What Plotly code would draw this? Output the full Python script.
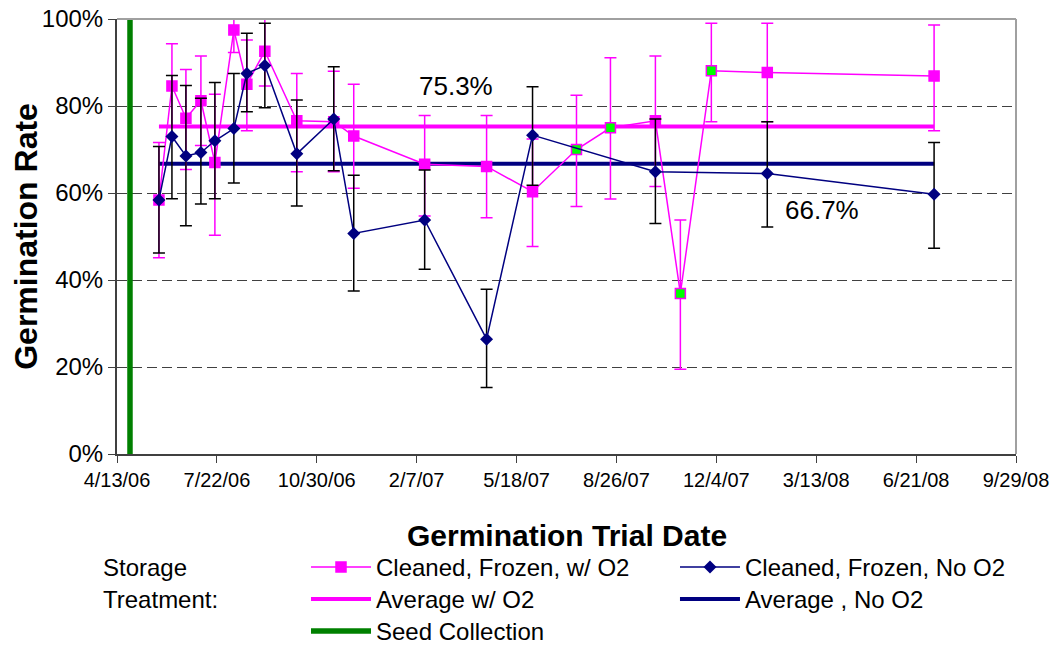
import plotly.graph_objects as go

# ---------------- data ----------------
dates_o2 = ["2006-05-25", "2006-06-07", "2006-06-21", "2006-07-06", "2006-07-20",
            "2006-08-08", "2006-08-21", "2006-09-08", "2006-10-10", "2006-11-16",
            "2006-12-06", "2007-02-15", "2007-04-18", "2007-06-03", "2007-07-17",
            "2007-08-20", "2007-10-04", "2007-10-29", "2007-11-29", "2008-01-24",
            "2008-07-09"]
rate_o2 = [0.584, 0.846, 0.772, 0.812, 0.670, 0.975, 0.850, 0.926, 0.766, 0.764,
           0.731, 0.666, 0.661, 0.603, 0.700, 0.750, 0.766, 0.369, 0.881, 0.877,
           0.869]
upper_o2 = [0.716, 0.943, 0.884, 0.915, 0.827, 1.012, 0.952, 1.004, 0.875, 0.880,
            0.850, 0.778, 0.778, 0.724, 0.825, 0.911, 0.915, 0.538, 0.990, 0.990,
            0.986]
lower_o2 = [0.451, 0.752, 0.654, 0.709, 0.503, 0.923, 0.743, 0.846, 0.649, 0.649,
            0.611, 0.547, 0.543, 0.477, 0.569, 0.586, 0.615, 0.195, 0.764, 0.764,
            0.743]
highlight_o2 = [False] * 14 + [True, True, False, True, True, False, False]

dates_no2 = ["2006-05-25", "2006-06-07", "2006-06-21", "2006-07-06", "2006-07-20",
             "2006-08-08", "2006-08-21", "2006-09-08", "2006-10-10", "2006-11-16",
             "2006-12-06", "2007-02-15", "2007-04-18", "2007-06-03", "2007-10-04",
             "2008-01-24", "2008-07-09"]
rate_no2 = [0.584, 0.730, 0.685, 0.693, 0.720, 0.748, 0.875, 0.893, 0.690, 0.770,
            0.507, 0.538, 0.264, 0.733, 0.649, 0.645, 0.597]
upper_no2 = [0.707, 0.870, 0.847, 0.818, 0.854, 0.875, 0.967, 0.990, 0.814, 0.890,
             0.641, 0.653, 0.379, 0.844, 0.770, 0.764, 0.716]
lower_no2 = [0.462, 0.587, 0.525, 0.575, 0.587, 0.623, 0.787, 0.796, 0.570, 0.651,
             0.375, 0.425, 0.153, 0.618, 0.530, 0.522, 0.473]

avg_dates = ["2006-05-25", "2008-07-09"]
avg_o2 = 0.753
avg_no2 = 0.667

seed_date = "2006-04-26"
seed_y = [-0.016, 1.011]

tick_dates = ["2006-04-13", "2006-07-22", "2006-10-30", "2007-02-07", "2007-05-18",
              "2007-08-26", "2007-12-04", "2008-03-13", "2008-06-21", "2008-09-29"]
tick_text = ["4/13/06", "7/22/06", "10/30/06", "2/7/07", "5/18/07", "8/26/07",
             "12/4/07", "3/13/08", "6/21/08", "9/29/08"]

# ---------------- style ----------------
PINK = "#FF00FF"
NAVY = "#000080"
GREEN = "#008000"
LIME = "#00FF00"
FONT = "Liberation Sans, Arial, sans-serif"
LEG_FONT = 24

fig = go.Figure()

fig.add_trace(go.Scatter(
    x=avg_dates, y=[avg_o2] * len(avg_dates), mode="lines",
    line=dict(color=PINK, width=4), name="Average w/ O2", legend="legend3",
    hoverinfo="skip"))
fig.add_trace(go.Scatter(
    x=avg_dates, y=[avg_no2] * len(avg_dates), mode="lines",
    line=dict(color=NAVY, width=4), name="Average , No O2", legend="legend4",
    hoverinfo="skip"))

fig.add_trace(go.Scatter(
    x=dates_o2, y=rate_o2, mode="lines+markers", name="Cleaned, Frozen, w/ O2",
    legend="legend",
    line=dict(color=PINK, width=1.5),
    marker=dict(symbol="square", size=10,
                color=[LIME if h else PINK for h in highlight_o2],
                line=dict(color=PINK, width=1.5)),
    error_y=dict(type="data", symmetric=False,
                 array=[u - v for u, v in zip(upper_o2, rate_o2)],
                 arrayminus=[v - l for v, l in zip(rate_o2, lower_o2)],
                 color=PINK, thickness=1.5, width=6),
    cliponaxis=False))

fig.add_trace(go.Scatter(
    x=dates_no2, y=rate_no2, mode="lines+markers", name="Cleaned, Frozen, No O2",
    legend="legend2",
    line=dict(color=NAVY, width=1.5),
    marker=dict(symbol="diamond", size=10, color=NAVY, line=dict(color=NAVY, width=0)),
    error_y=dict(type="data", symmetric=False,
                 array=[u - v for u, v in zip(upper_no2, rate_no2)],
                 arrayminus=[v - l for v, l in zip(rate_no2, lower_no2)],
                 color="black", thickness=1.5, width=6),
    cliponaxis=False))

fig.add_trace(go.Scatter(
    x=[seed_date] * len(seed_y), y=seed_y, mode="lines", name="Seed Collection",
    legend="legend5", line=dict(color=GREEN, width=5.5),
    cliponaxis=False, hoverinfo="skip"))


def leg(x, y):
    return dict(orientation="v", xref="container", yref="container",
                xanchor="left", yanchor="top", x=x, y=y,
                font=dict(size=LEG_FONT, family=FONT), itemwidth=60,
                tracegroupgap=0, bgcolor="rgba(0,0,0,0)", borderwidth=0)


COL1, COL2 = 0.2906, 0.641
ROW1, ROW2, ROW3 = 0.1565, 0.1069, 0.0574

fig.update_layout(
    width=1053, height=646,
    margin=dict(l=117, r=37, t=19, b=192, autoexpand=False),
    paper_bgcolor="white", plot_bgcolor="white",
    font=dict(family=FONT, color="black"),
    showlegend=True,
    legend=leg(COL1, ROW1),
    legend2=leg(COL2, ROW1),
    legend3=leg(COL1, ROW2),
    legend4=leg(COL2, ROW2),
    legend5=leg(COL1, ROW3),
    xaxis=dict(type="date", range=["2006-04-13", "2008-09-29"],
               tickvals=tick_dates, ticktext=tick_text,
               tickfont=dict(size=20), ticks="outside", ticklen=7,
               tickcolor="#404040", showgrid=False, zeroline=False,
               showline=True, linecolor="#404040", linewidth=2),
    yaxis=dict(range=[0, 1], tickvals=[0, 0.2, 0.4, 0.6, 0.8, 1.0],
               tickformat=".0%", tickfont=dict(size=24), ticks="outside",
               ticklen=7, tickcolor="#404040",
               showgrid=True, gridcolor="#404040", gridwidth=1,
               griddash="10px,5px", zeroline=False,
               showline=True, linecolor="#404040", linewidth=2),
    shapes=[
        dict(type="line", xref="paper", yref="paper", x0=0, x1=1, y0=1, y1=1,
             line=dict(color="#A0A0A0", width=2), layer="above"),
        dict(type="line", xref="paper", yref="paper", x0=1, x1=1, y0=0, y1=1,
             line=dict(color="#A0A0A0", width=2), layer="above"),
    ],
    annotations=[
        dict(text="<b>Germination Rate</b>", xref="paper", yref="paper",
             x=-0.102, y=0.5, xanchor="center", yanchor="middle",
             textangle=-90, showarrow=False, font=dict(size=32)),
        dict(text="<b>Germination Trial Date</b>", xref="paper", yref="paper",
             x=0.5, y=-0.188, xanchor="center", yanchor="middle",
             showarrow=False, font=dict(size=30)),
        dict(text="Storage", xref="paper", yref="paper", x=-0.018, y=-0.26,
             xanchor="left", yanchor="middle", showarrow=False,
             font=dict(size=LEG_FONT)),
        dict(text="Treatment:", xref="paper", yref="paper", x=-0.018, y=-0.3356,
             xanchor="left", yanchor="middle", showarrow=False,
             font=dict(size=LEG_FONT)),
        dict(text=f"{avg_o2:.1%}", xref="paper", yref="paper", x=0.377, y=0.846,
             xanchor="center", yanchor="middle", showarrow=False,
             font=dict(size=26)),
        dict(text=f"{avg_no2:.1%}", xref="paper", yref="paper", x=0.784, y=0.561,
             xanchor="center", yanchor="middle", showarrow=False,
             font=dict(size=26)),
    ],
)

fig.write_html("out.html",
               config={"displayModeBar": False},
               post_script="document.body.style.margin='0';"
                           "document.body.style.overflow='hidden';")
